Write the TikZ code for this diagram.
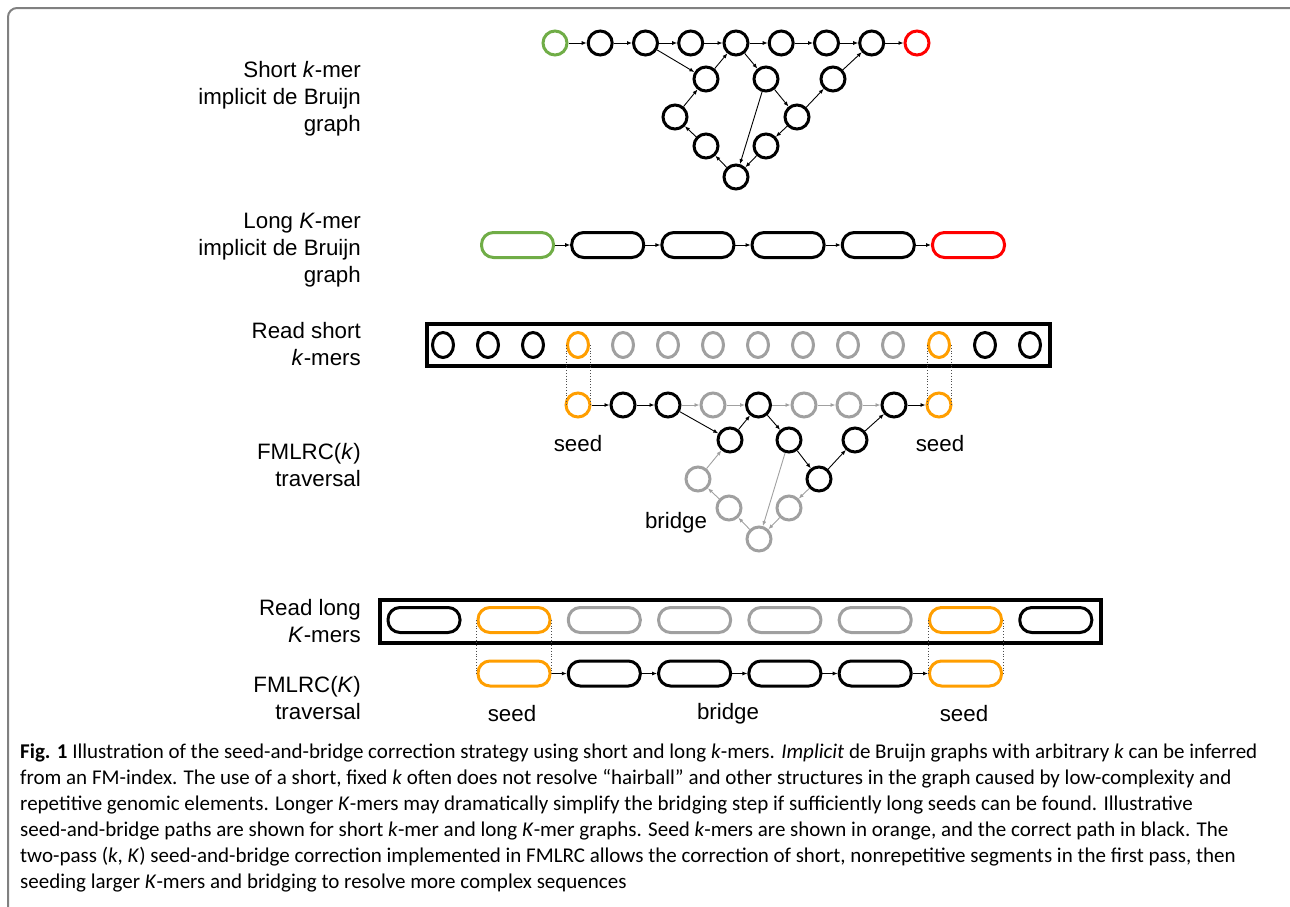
\documentclass[tikz,border=0pt]{standalone}
\usepackage{fontspec}
\setmainfont{Liberation Sans}
\newfontfamily\capfont{Carlito}
\usetikzlibrary{arrows.meta,shapes.geometric}
\definecolor{kgreen}{HTML}{70AD47}
\definecolor{kred}{HTML}{FF0000}
\definecolor{korange}{HTML}{FF9E00}
\definecolor{kgray}{HTML}{A0A0A0}
\definecolor{kframe}{HTML}{808080}
\begin{document}
\begin{tikzpicture}[x=1pt,y=-1pt,
  kc/.style={circle,draw,line width=3pt,minimum size=24pt,inner sep=0pt},
  ke/.style={ellipse,draw,line width=3pt,minimum width=21pt,minimum height=25pt,inner sep=0pt},
  kr/.style={rectangle,rounded corners=12pt,draw,line width=3pt,minimum width=72pt,minimum height=25pt,inner sep=0pt},
  gn/.style={draw=kgreen}, rd/.style={draw=kred}, og/.style={draw=korange}, gy/.style={draw=kgray},
  arr/.style={-{Latex[length=5pt,width=4pt]},line width=0.9pt},
  garr/.style={arr,draw=kgray},
  dotl/.style={dotted,line width=0.8pt,draw=black!70},
  readbox/.style={draw,line width=4pt},
  lbl/.style={font=\fontsize{22.3}{27}\selectfont,align=right,anchor=east,inner sep=0pt},
  tag/.style={font=\fontsize{22.3}{24}\selectfont,inner sep=0pt},
  captxt/.style={font=\capfont\fontsize{21}{26}\selectfont,anchor=base west,inner sep=0pt}
]
\useasboundingbox (0,0) rectangle (1290,906);
\clip (0,0) rectangle (1290,906);
% frame
\draw[kframe,line width=2pt,rounded corners=9pt] (8,920) -- (8,8) -- (1300,8);

% ---------- labels ----------
\node[lbl] (L1) at (361,99) {Short \textit{k}-mer\\implicit de Bruijn\\graph};
\node[lbl] (L2) at (361,250) {Long \textit{K}-mer\\implicit de Bruijn\\graph};
\node[lbl] (L3) at (361,344) {Read short\\\textit{k}-mers};
\node[lbl] (L4) at (361,465) {FMLRC(\textit{k})\\traversal};
\node[lbl] (L5) at (361,621) {Read long\\\textit{K}-mers};
\node[lbl] (L6) at (361,698) {FMLRC(\textit{K})\\traversal};

% ---------- short k-mer graph ----------
\node[kc,gn] (a1) at (555,43) {};
\node[kc] (a2) at (600.2,43) {};
\node[kc] (a3) at (645.5,43) {};
\node[kc] (a4) at (690.7,43) {};
\node[kc] (a5) at (736,43) {};
\node[kc] (a6) at (781.2,43) {};
\node[kc] (a7) at (826.5,43) {};
\node[kc] (a8) at (871.7,43) {};
\node[kc,rd] (a9) at (917,43) {};
\node[kc] (b1) at (706,79) {};
\node[kc] (b2) at (766,79) {};
\node[kc] (b3) at (833,79) {};
\node[kc] (c1) at (675,117) {};
\node[kc] (c2) at (797,117) {};
\node[kc] (d1) at (706,146) {};
\node[kc] (d2) at (766,146) {};
\node[kc] (e1) at (736,177) {};
\foreach \p/\q in {a1/a2,a2/a3,a3/a4,a4/a5,a5/a6,a6/a7,a7/a8,a8/a9,
  a3/b1,b1/a5,a5/b2,b2/c2,c2/b3,b3/a8,b2/e1,c2/d2,d2/e1,e1/d1,d1/c1,c1/b1}
  \draw[arr] (\p) -- (\q);

% ---------- long K-mer graph ----------
\node[kr,gn] (k1) at (517.5,245) {};
\node[kr] (k2) at (607.7,245) {};
\node[kr] (k3) at (697.9,245) {};
\node[kr] (k4) at (788.1,245) {};
\node[kr] (k5) at (878.3,245) {};
\node[kr,rd] (k6) at (968.5,245) {};
\foreach \p/\q in {k1/k2,k2/k3,k3/k4,k4/k5,k5/k6}
  \draw[arr] (\p) -- (\q);

% ---------- read short k-mers ----------
\node[readbox,minimum width=623pt,minimum height=42pt,inner sep=0pt] (R1) at (738.5,345) {};
\node[ke] (s1) at (443,345) {};
\node[ke] (s2) at (488,345) {};
\node[ke] (s3) at (533,345) {};
\node[ke,og] (s4) at (578,345) {};
\node[ke,gy] (s5) at (623,345) {};
\node[ke,gy] (s6) at (668,345) {};
\node[ke,gy] (s7) at (713,345) {};
\node[ke,gy] (s8) at (758,345) {};
\node[ke,gy] (s9) at (803,345) {};
\node[ke,gy] (s10) at (848,345) {};
\node[ke,gy] (s11) at (893,345) {};
\node[ke,og] (s12) at (939,345) {};
\node[ke] (s13) at (985,345) {};
\node[ke] (s14) at (1030,345) {};

% ---------- FMLRC(k) traversal ----------
\node[kc,og] (t1) at (578,405) {};
\node[kc] (t2) at (623,405) {};
\node[kc] (t3) at (668,405) {};
\node[kc,gy] (t4) at (713,405) {};
\node[kc] (t5) at (758.5,405) {};
\node[kc,gy] (t6) at (804,405) {};
\node[kc,gy] (t7) at (849,405) {};
\node[kc] (t8) at (894,405) {};
\node[kc,og] (t9) at (939,405) {};
\node[kc] (u1) at (730,440) {};
\node[kc] (u2) at (789,440) {};
\node[kc] (u3) at (855,440) {};
\node[kc,gy] (v1) at (698,479) {};
\node[kc] (v2) at (819,479) {};
\node[kc,gy] (w1) at (729,508) {};
\node[kc,gy] (w2) at (789,508) {};
\node[kc,gy] (x1) at (759,539) {};
\foreach \p/\q in {t1/t2,t2/t3,t8/t9,t3/u1,u1/t5,t5/u2,u2/v2,v2/u3,u3/t8}
  \draw[arr] (\p) -- (\q);
\foreach \p/\q in {t3/t4,t4/t5,t5/t6,t6/t7,t7/t8,u2/x1,v2/w2,w2/x1,x1/w1,w1/v1,v1/u1}
  \draw[garr] (\p) -- (\q);
\draw[dotl] (s4.west) -- (s4.west |- t1.center);
\draw[dotl] (s4.east) -- (s4.east |- t1.center);
\draw[dotl] (s12.west) -- (s12.west |- t9.center);
\draw[dotl] (s12.east) -- (s12.east |- t9.center);
\node[tag] (sd1) at (578,444) {seed};
\node[tag] (sd2) at (940,444) {seed};
\node[tag] (br1) at (676,523) {bridge};

% ---------- read long K-mers ----------
\node[readbox,minimum width=721pt,minimum height=43pt,inner sep=0pt] (R2) at (740.5,621.5) {};
\node[kr] (m1) at (424,620) {};
\node[kr,og] (m2) at (514,620) {};
\node[kr,gy] (m3) at (604.3,620) {};
\node[kr,gy] (m4) at (694.6,620) {};
\node[kr,gy] (m5) at (784.9,620) {};
\node[kr,gy] (m6) at (875.2,620) {};
\node[kr,og] (m7) at (965.5,620) {};
\node[kr] (m8) at (1055.8,620) {};

% ---------- FMLRC(K) traversal ----------
\node[kr,og] (n1) at (514,673.5) {};
\node[kr] (n2) at (604.3,673.5) {};
\node[kr] (n3) at (694.6,673.5) {};
\node[kr] (n4) at (784.9,673.5) {};
\node[kr] (n5) at (875.2,673.5) {};
\node[kr,og] (n6) at (965.5,673.5) {};
\foreach \p/\q in {n1/n2,n2/n3,n3/n4,n4/n5,n5/n6}
  \draw[arr] (\p) -- (\q);
\draw[dotl] (m2.west) -- (m2.west |- n1.center);
\draw[dotl] (m2.east) -- (m2.east |- n1.center);
\draw[dotl] (m7.west) -- (m7.west |- n6.center);
\draw[dotl] (m7.east) -- (m7.east |- n6.center);
\node[tag] (sd3) at (512,714) {seed};
\node[tag] (br2) at (728,714) {bridge};
\node[tag] (sd4) at (964,714) {seed};

% ---------- caption ----------
\node[captxt] (cp1) at (20,758) {\textbf{Fig. 1} Illustration of the seed-and-bridge correction strategy using short and long \textit{k}-mers. \textit{Implicit} de Bruijn graphs with arbitrary \textit{k} can be inferred};
\node[captxt] (cp2) at (20,784) {from an FM-index. The use of a short, fixed \textit{k} often does not resolve “hairball” and other structures in the graph caused by low-complexity and};
\node[captxt] (cp3) at (20,810) {repetitive genomic elements. Longer \textit{K}-mers may dramatically simplify the bridging step if sufficiently long seeds can be found. Illustrative};
\node[captxt] (cp4) at (20,836) {seed-and-bridge paths are shown for short \textit{k}-mer and long \textit{K}-mer graphs. Seed \textit{k}-mers are shown in orange, and the correct path in black. The};
\node[captxt] (cp5) at (20,862) {two-pass (\textit{k}, \textit{K}) seed-and-bridge correction implemented in FMLRC allows the correction of short, nonrepetitive segments in the first pass, then};
\node[captxt] (cp6) at (20,888) {seeding larger \textit{K}-mers and bridging to resolve more complex sequences};
\end{tikzpicture}
\end{document}
